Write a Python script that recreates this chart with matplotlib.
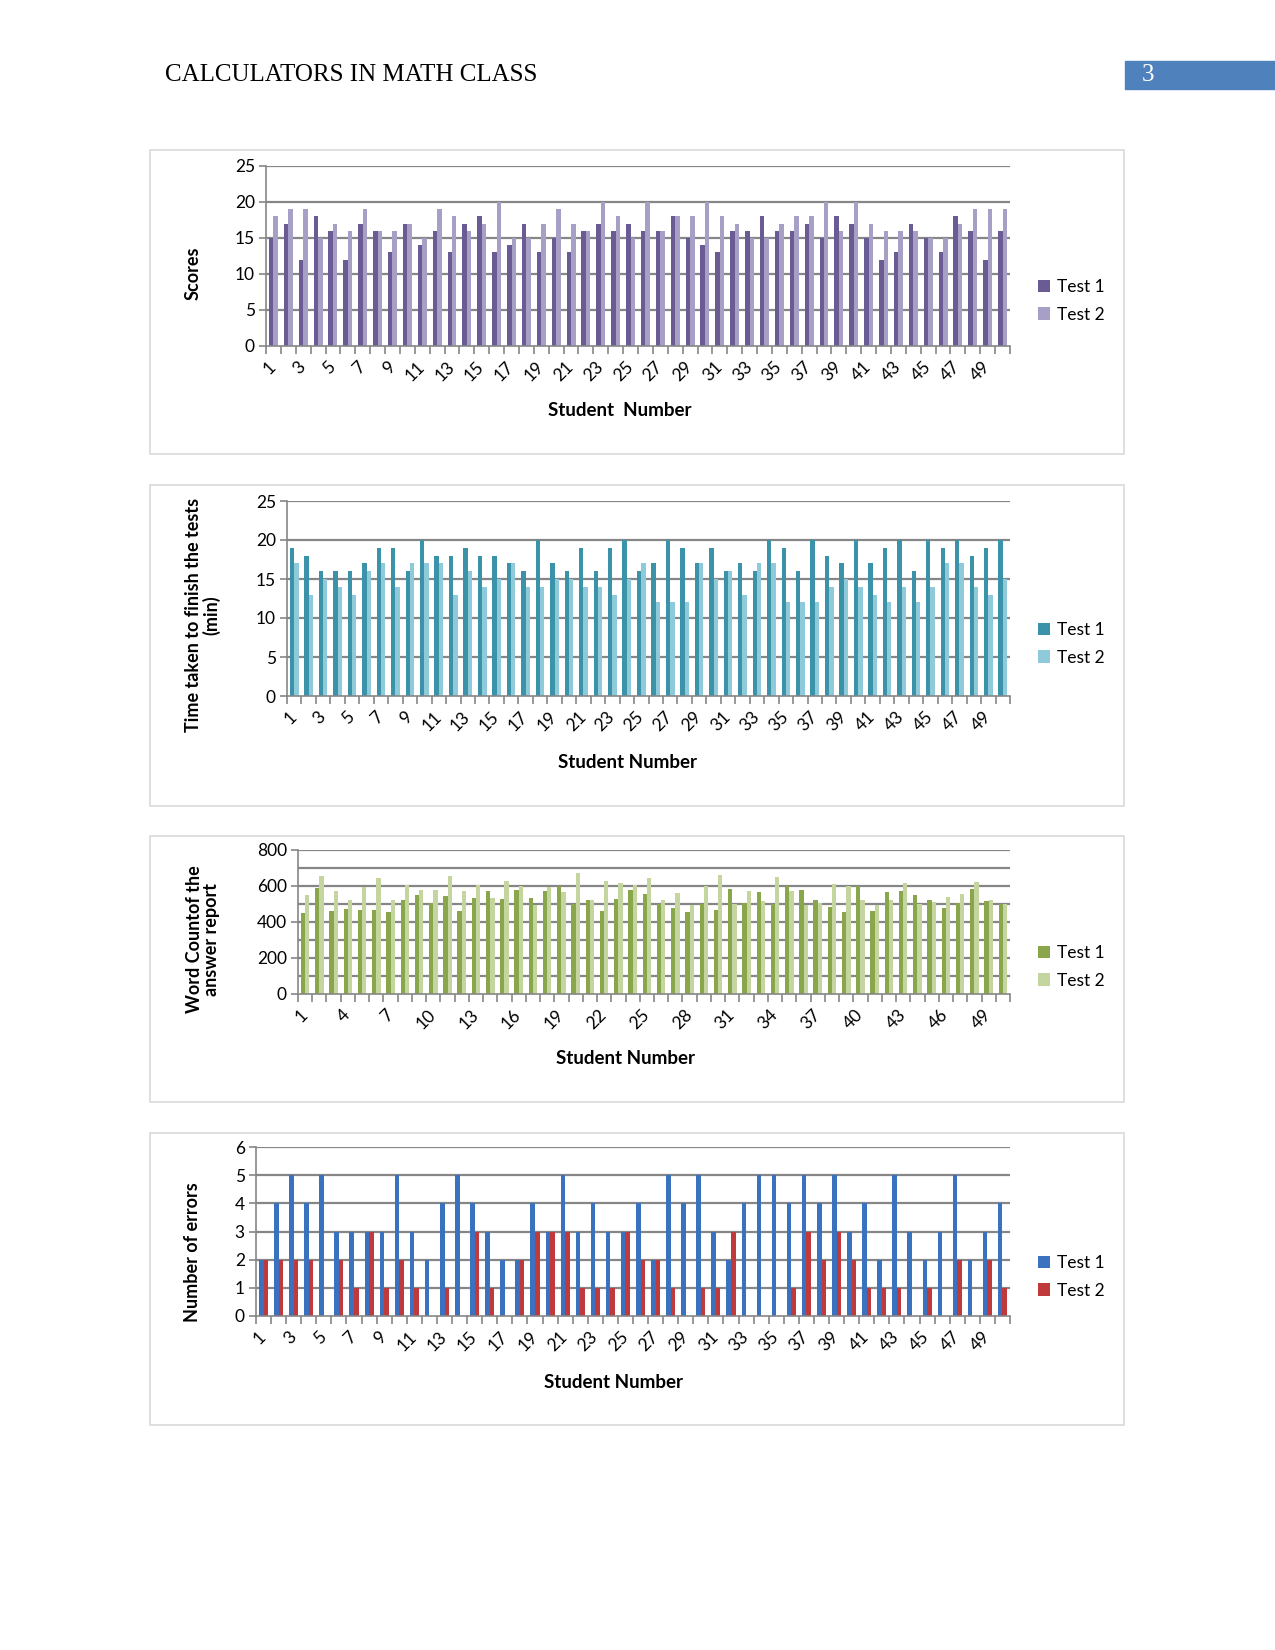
import numpy as np
import matplotlib
matplotlib.use('Agg')
import matplotlib.pyplot as plt
from matplotlib.patches import Rectangle

# ---- data ----
students = list(range(1, 51))

score_t1 = [15, 17, 12, 18, 16, 12, 17, 16, 13, 17, 14, 16, 13, 17, 18, 13, 14, 17, 13, 15, 13, 16, 17, 16, 17,
            16, 16, 18, 15, 14, 13, 16, 16, 18, 16, 16, 17, 15, 18, 17, 15, 12, 13, 17, 15, 13, 18, 16, 12, 16]
score_t2 = [18, 19, 19, 15, 17, 16, 19, 16, 16, 17, 15, 19, 18, 16, 17, 20, 15, 15, 17, 19, 17, 16, 20, 18, 15,
            20, 16, 18, 18, 20, 18, 17, 15, 15, 17, 18, 18, 20, 16, 20, 17, 16, 16, 16, 15, 15, 17, 19, 19, 19]

time_t1 = [19, 18, 16, 16, 16, 17, 19, 19, 16, 20, 18, 18, 19, 18, 18, 17, 16, 20, 17, 16, 19, 16, 19, 20, 16,
           17, 20, 19, 17, 19, 16, 17, 16, 20, 19, 16, 20, 18, 17, 20, 17, 19, 20, 16, 20, 19, 20, 18, 19, 20]
time_t2 = [17, 13, 15, 14, 13, 16, 17, 14, 17, 17, 17, 13, 16, 14, 15, 17, 14, 14, 15, 15, 14, 14, 13, 15, 17,
           12, 12, 12, 17, 15, 16, 13, 17, 17, 12, 12, 12, 14, 15, 14, 13, 12, 14, 12, 14, 17, 17, 14, 13, 15]

words_t1 = [450, 590, 460, 470, 465, 465, 455, 520, 550, 505, 545, 460, 535, 575, 530, 580, 535, 575, 600, 500,
            525, 460, 530, 580, 555, 500, 480, 455, 500, 465, 585, 505, 565, 500, 600, 580, 525, 485, 455, 600,
            460, 565, 570, 550, 520, 480, 505, 585, 515, 500]
words_t2 = [550, 655, 570, 525, 595, 645, 525, 605, 580, 580, 655, 570, 605, 535, 630, 600, 495, 595, 565, 670,
            525, 630, 615, 605, 645, 520, 560, 495, 600, 660, 500, 570, 515, 650, 570, 495, 505, 610, 600, 525,
            495, 525, 615, 500, 510, 540, 555, 625, 525, 500]

err_t1 = [2, 4, 5, 4, 5, 3, 3, 3, 3, 5, 3, 2, 4, 5, 4, 3, 2, 2, 4, 3, 5, 3, 4, 3, 3,
          4, 2, 5, 4, 5, 3, 2, 4, 5, 5, 4, 5, 4, 5, 3, 4, 2, 5, 3, 2, 3, 5, 2, 3, 4]
err_t2 = [2, 2, 2, 2, 0, 2, 1, 3, 1, 2, 1, 0, 1, 0, 3, 1, 0, 2, 3, 3, 3, 1, 1, 1, 3,
          2, 2, 1, 0, 1, 1, 3, 0, 0, 0, 1, 3, 2, 3, 2, 1, 1, 1, 0, 1, 0, 2, 0, 2, 1]

W, H = 1275, 1650
fig = plt.figure(figsize=(W / 100, H / 100), dpi=100)
FONT = 'Lato'


def rect(x0, y0, x1, y1):
    return [x0 / W, 1 - y1 / H, (x1 - x0) / W, (y1 - y0) / H]


# header
fig.text(165 / W, 1 - 75 / H, 'CALCULATORS IN MATH CLASS', family='Liberation Serif',
         fontsize=18, va='center', ha='left')
fig.patches.append(Rectangle((1125 / W, 1 - 89 / H), 150 / W, 28 / H, transform=fig.transFigure,
                             facecolor='#4f81bd', edgecolor='#4f81bd'))
fig.text(1142 / W, 1 - 75 / H, '3', family='Liberation Serif', fontsize=18, color='white',
         va='center', ha='left')


def chart(frame, plot, t1, t2, c1, c2, ymax, ystep, ylabel, ylab_x, ylab_y, xlab, xlab_y,
          leg_y, label_every=2, grid_step=None):
    fx0, fy0, fx1, fy1 = frame
    fig.patches.append(Rectangle((fx0 / W, 1 - fy1 / H), (fx1 - fx0) / W, (fy1 - fy0) / H,
                                 transform=fig.transFigure, facecolor='none',
                                 edgecolor='#d9d9d9', lw=1.2))
    ax = fig.add_axes(rect(*plot))
    x = np.array(students)
    w = 0.3
    ax.bar(x - w / 2, t1, w, color=c1, label='Test 1', zorder=3)
    ax.bar(x + w / 2, t2, w, color=c2, label='Test 2', zorder=3)
    ax.set_xlim(0.5, 50.5)
    ax.set_ylim(0, ymax)
    ax.set_yticks(np.arange(0, ymax + 1, ystep))
    if grid_step is None:
        grid_step = ystep
    for g in np.arange(grid_step, ymax + 1, grid_step):
        ax.axhline(g, color='#868686', lw=1.6, zorder=1)
    for s in ['top', 'right']:
        ax.spines[s].set_visible(False)
    for s in ['left', 'bottom']:
        ax.spines[s].set_color('#868686')
        ax.spines[s].set_linewidth(1.2)
    ax.spines['bottom'].set_zorder(4)
    ax.set_xticks(x)
    ax.set_xticklabels([str(s) if (s - 1) % label_every == 0 else '' for s in students],
                       rotation=45, ha='right', va='center', rotation_mode='anchor',
                       family=FONT, fontsize=12.5)
    ax.tick_params(axis='x', length=0, pad=13)
    ax.set_xticks(np.arange(0.5, 51, 1), minor=True)
    ax.tick_params(axis='x', which='minor', length=6, color='#868686', width=1.2)
    ax.tick_params(axis='y', length=5, color='#868686', width=1.2, pad=3)
    for t in ax.get_yticklabels():
        t.set_family(FONT)
        t.set_fontsize(12.5)
    fig.text(ylab_x / W, 1 - ylab_y / H, ylabel, rotation=90, ha='center', va='center',
             family=FONT, fontweight='bold', fontsize=13, multialignment='center', linespacing=1.0)
    fig.text(xlab[1] / W, 1 - xlab_y / H, xlab[0], ha='center', va='center',
             family=FONT, fontweight='bold', fontsize=13.5)
    fig.legend(handles=ax.patches[:1] + ax.patches[50:51], labels=['Test 1', 'Test 2'],
               loc='center left', bbox_to_anchor=(1022 / W, 1 - leg_y / H),
               bbox_transform=fig.transFigure, frameon=False, handlelength=0.7,
               handleheight=0.7, handletextpad=0.4, labelspacing=0.65,
               prop={'family': FONT, 'size': 12.5})
    return ax


chart((150, 150, 1124, 454), (266, 166, 1010, 346), score_t1, score_t2, '#6b5b95', '#a89fc6',
      25, 5, 'Scores', 193, 273, ('Student  Number', 620), 411, 301)

chart((150, 485, 1124, 806), (287, 501, 1010, 696), time_t1, time_t2, '#3a93a8', '#8ecada',
      25, 5, 'Time taken to finish the tests\n(min)', 203, 615, ('Student Number', 628), 763, 644)

chart((150, 836, 1124, 1102), (298, 850, 1010, 994), words_t1, words_t2, '#8aa64a', '#c4d59f',
      800, 200, 'Word Countof the\nanswer report', 203, 939, ('Student Number', 625), 1059, 967,
      label_every=3, grid_step=100)

chart((150, 1133, 1124, 1425), (256, 1147, 1010, 1316), err_t1, err_t2, '#3b72bf', '#c0393b',
      6, 1, 'Number of errors', 193, 1252, ('Student Number', 614), 1382, 1277)

fig.savefig('out.png', dpi=100, facecolor='white')
